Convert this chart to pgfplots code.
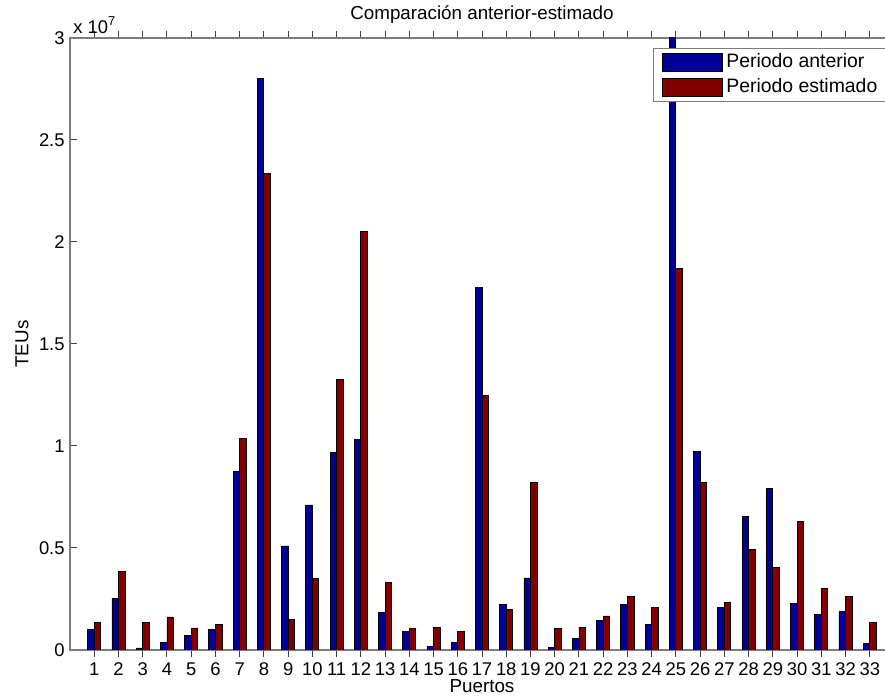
\documentclass[border=0pt]{standalone}
\usepackage{pgfplots}
\pgfplotsset{compat=1.18}
\usepackage{pgfplotstable}
\usepackage{fontspec}
\setmainfont{Liberation Sans}
\definecolor{matblue}{RGB}{0,0,150}
\definecolor{matred}{RGB}{128,0,0}
\definecolor{axgray}{RGB}{125,125,125}

% values in units of 10^7 TEUs
\pgfplotstableread{
x anterior estimado
1 0.101 0.137
2 0.252 0.386
3 0.010 0.137
4 0.039 0.162
5 0.072 0.108
6 0.101 0.124
7 0.877 1.039
8 2.800 2.337
9 0.510 0.150
10 0.711 0.350
11 0.970 1.328
12 1.033 2.052
13 0.186 0.330
14 0.092 0.104
15 0.018 0.111
16 0.036 0.092
17 1.776 1.247
18 0.222 0.199
19 0.353 0.820
20 0.011 0.104
21 0.055 0.111
22 0.144 0.167
23 0.222 0.265
24 0.124 0.209
25 3.050 1.870
26 0.972 0.822
27 0.209 0.235
28 0.654 0.494
29 0.791 0.405
30 0.229 0.631
31 0.173 0.300
32 0.190 0.261
33 0.033 0.137
}\datatable

\begin{document}
\begin{tikzpicture}[font=\fontsize{9}{11}\selectfont]
\path[use as bounding box, clip] (-35pt,-23pt) rectangle (407.5pt,325pt);
\begin{axis}[
  scale only axis, width=412pt, height=306pt,
  clip mode=individual,
  xmin=0, xmax=34, ymin=0, ymax=3,
  xtick={1,...,33},
  ytick={0,0.5,1,1.5,2,2.5,3},
  yticklabels={0,0.5,1,1.5,2,2.5,3},
  /pgf/number format/assume math mode=true,
  tick align=inside,
  major tick length=3.5pt,
  tick style={black!75, line width=0.5pt},
  axis line style={axgray, line width=0.8pt},
  every tick label/.append style={font=\fontsize{9.2}{11}\selectfont, text=black},
  xticklabel style={inner sep=1pt, yshift=-1.5pt},
  yticklabel style={inner sep=1pt, xshift=-1.5pt},
  ybar=0pt, bar width=0.27,
  every axis title shift=0pt,
  title={Comparación anterior-estimado},
  title style={at={([yshift=11.5pt]axis description cs:0.5,1)}, anchor=center, font=\fontsize{9.4}{11}\selectfont},
  xlabel={Puertos},
  xlabel style={at={([yshift=-18pt]axis description cs:0.5,0)}, anchor=center, font=\fontsize{9.4}{11}\selectfont},
  ylabel={TEUs},
  ylabel style={at={([xshift=-24pt]axis description cs:0,0.5)}, anchor=center, font=\fontsize{9.4}{11}\selectfont},
  legend image code/.code={\draw[#1, draw=black, line width=0.4pt] (0pt,-4.5pt) rectangle (30pt,4.5pt);},
  legend cell align=left,
  legend style={at={(axis description cs:0.7075,0.9837)}, anchor=north west,
    draw=axgray, fill=white, line width=0.6pt, inner xsep=4.25pt, inner ysep=1pt, row sep=0pt,
    font=\fontsize{9.7}{11}\selectfont,
    nodes={inner xsep=1.75pt, inner ysep=1.6pt, text height=7pt, text depth=2pt}},
]
\addplot[fill=matblue, draw=black, line width=0.4pt] table[x=x, y=anterior] {\datatable};
\addlegendentry{Periodo anterior}
\addplot[fill=matred, draw=black, line width=0.4pt] table[x=x, y=estimado] {\datatable};
\addlegendentry{Periodo estimado}
\node[anchor=west, inner sep=0pt, font=\fontsize{9.2}{11}\selectfont] at ([xshift=1.5pt, yshift=6.5pt]axis description cs:0,1) {x 10\textsuperscript{7}};
\end{axis}
\end{tikzpicture}
\end{document}
